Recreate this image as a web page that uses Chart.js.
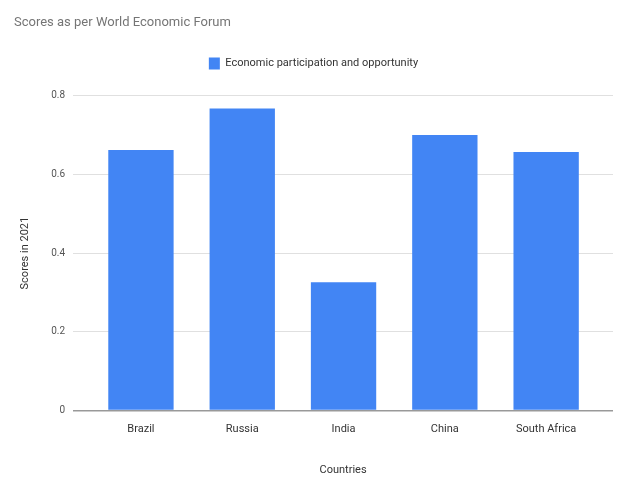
<!DOCTYPE html>
<html><head><meta charset="utf-8">
<script src="https://cdn.jsdelivr.net/npm/chart.js@4"></script>
<style>html,body{margin:0;padding:0;background:#fff}#w{width:617px;height:477px;position:relative}</style>
</head><body><div id="w"><canvas id="c"></canvas></div>
<script>
const categories = ["Brazil","Russia","India","China","South Africa"];
const seriesName = "Economic participation and opportunity";
const values = [0.662, 0.767, 0.326, 0.700, 0.657];
const yTicks = [0, 0.2, 0.4, 0.6, 0.8];

const FONT = 'Roboto';
new Chart(document.getElementById('c'), {
  type: 'bar',
  data: { datasets: [{ label: seriesName, data: values.map((v, i) => ({ x: i, y: v })), backgroundColor: '#4285f4', barPercentage: 0.645, categoryPercentage: 1 }] },
  options: {
    responsive: true, maintainAspectRatio: false, animation: false,
    layout: { padding: { left: 14, right: 4, top: 7, bottom: 0 } },
    plugins: {
      title: { display: true, text: 'Scores as per World Economic Forum', align: 'start', color: '#757575', font: { family: FONT, size: 13, weight: 'normal' }, padding: { top: 8, bottom: 17 } },
      subtitle: { display: true, text: ' ', weight: 500, font: { size: 10 }, padding: { top: 0, bottom: 4 } },
      legend: { position: 'top', labels: { color: '#333', font: { family: FONT, size: 11 }, boxWidth: 11, boxHeight: 12, padding: 10 } },
      tooltip: { enabled: false }
    },
    scales: {
      x: { type: 'linear', offset: false, min: -0.67, max: 4.66, grid: { display: false }, border: { display: false },
           afterBuildTicks: a => { a.ticks = categories.map((c, i) => ({ value: i })); },
           ticks: { color: '#333', font: { family: FONT, size: 11 }, padding: 4, autoSkip: false, maxRotation: 0, callback: v => categories[v] },
           title: { display: true, text: 'Countries', color: '#333', font: { family: FONT, size: 11 }, padding: { top: 24, bottom: 0 } } },
      y: { min: 0, max: 0.8, afterBuildTicks: a => { a.ticks = yTicks.map(v => ({ value: v })); },
           grid: { color: c => c.tick.value === 0 ? '#999' : '#e0e0e0', lineWidth: c => c.tick.value === 0 ? 1.5 : 1, drawTicks: false }, border: { display: false },
           ticks: { color: '#555', font: { family: FONT, size: 10 }, padding: 8, callback: v => String(v) },
           title: { display: true, text: 'Scores in 2021', color: '#333', font: { family: FONT, size: 11 }, padding: { top: 5, bottom: 11 } } }
    }
  }
});
</script></body></html>
